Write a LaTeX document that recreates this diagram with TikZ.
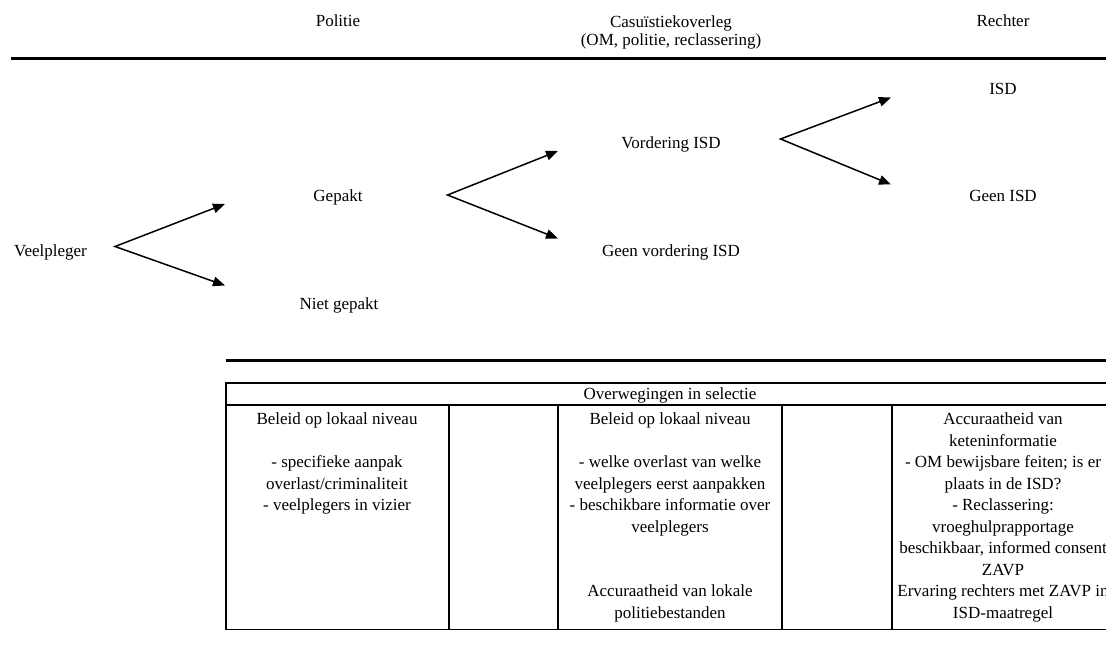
\documentclass[tikz,border=0pt]{standalone}
\usepackage{fontspec}
\setmainfont{Liberation Serif}
\usetikzlibrary{arrows.meta}
\begin{document}
\begin{tikzpicture}[x=1pt,y=-1pt,
  lbl/.style={font=\fontsize{17}{21.5}\selectfont, inner sep=0pt, anchor=base},
  fork/.style={line width=1.5pt, line join=miter,
    {Triangle[length=12pt,width=9.5pt]}-{Triangle[length=12pt,width=9.5pt]}},
  rulebar/.style={line width=3pt},
  gridline/.style={line width=1.8pt},
  cell/.style={font=\fontsize{17}{21.5}\selectfont, inner sep=0pt, anchor=north, align=center}]
\useasboundingbox (0,0) rectangle (1106,645);
\clip (0,0) rectangle (1106,645);

% column headings
\node[lbl] (hpol) at (338,26) {Politie};
\node[cell, font=\fontsize{17}{18}\selectfont] (hcas) at (671,13)
  {\rule{0pt}{14pt}Casuïstiekoverleg\\(OM, politie, reclassering)};
\node[lbl] (hrech) at (1003,26) {Rechter};
\draw[rulebar] (11,58.5) -- (1106,58.5);

% decision tree
\node[lbl] (veel)  at (50.5,256) {Veelpleger};
\node[lbl] (gep)   at (338,201)  {Gepakt};
\node[lbl] (niet)  at (339,309)  {Niet gepakt};
\node[lbl] (vord)  at (671,148)  {Vordering ISD};
\node[lbl] (geenv) at (671,256)  {Geen vordering ISD};
\node[lbl] (isd)   at (1003,94.5)  {ISD};
\node[lbl] (geeni) at (1003,201.5) {Geen ISD};

\coordinate (f1)  at (115,246.5);
\coordinate (f1a) at (225,204);
\coordinate (f1b) at (225,285.5);
\coordinate (f2)  at (447.5,195);
\coordinate (f2a) at (558,151);
\coordinate (f2b) at (558,238.5);
\coordinate (f3)  at (780.5,139);
\coordinate (f3a) at (891,97.5);
\coordinate (f3b) at (891,184.5);

\draw[fork] (f1a) -- (f1) -- (f1b);
\draw[fork] (f2a) -- (f2) -- (f2b);
\draw[fork] (f3a) -- (f3) -- (f3b);

\draw[rulebar] (226,360) -- (1106,360);

% table of considerations
\draw[gridline] (226,383) rectangle (1114,629.5);
\draw[gridline] (226,405) -- (1114,405);
\foreach \cx in {448.7,558,781.7,891.7}
  \draw[gridline] (\cx,405) -- (\cx,629.5);

\node[lbl] (thead) at (670,399) {Overwegingen in selectie};

\node[cell] (c1) at (337,409.5) {\rule{0pt}{15pt}Beleid op lokaal niveau\\ \mbox{}\\
  - specifieke aanpak\\ overlast/criminaliteit\\ - veelplegers in vizier};
\node[cell] (c3) at (670,409.5) {\rule{0pt}{15pt}Beleid op lokaal niveau\\ \mbox{}\\
  - welke overlast van welke\\ veelplegers eerst aanpakken\\
  - beschikbare informatie over\\ veelplegers\\ \mbox{}\\ \mbox{}\\
  Accuraatheid van lokale\\ politiebestanden};
\node[cell] (c5) at (1003,409.5) {\rule{0pt}{15pt}Accuraatheid van\\ keteninformatie\\
  - OM bewijsbare feiten; is er\\ plaats in de ISD?\\ - Reclassering:\\
  vroeghulprapportage\\ beschikbaar, informed consent\\ ZAVP\\
  Ervaring rechters met ZAVP in\\ ISD-maatregel};
\end{tikzpicture}
\end{document}
